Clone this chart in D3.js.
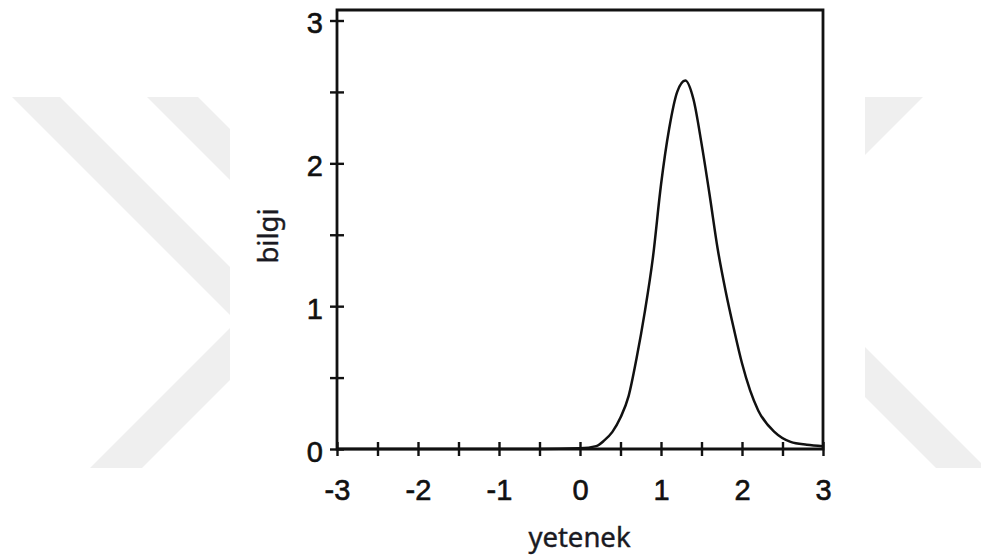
<!DOCTYPE html>
<html>
<head>
<meta charset="utf-8">
<script src="https://cdn.jsdelivr.net/npm/d3@7"></script>
<style>
  html, body { margin: 0; padding: 0; background: #ffffff; }
  svg { display: block; }
</style>
</head>
<body>
<svg id="chart" width="981" height="558"></svg>
<script>
// Item information curve: information (bilgi) against ability (yetenek)
const ability = [-3, -2.5, -2, -1.5, -1, -0.5, 0, 0.2, 0.3, 0.4, 0.5, 0.6, 0.7, 0.8, 0.9, 1.0,
                 1.1, 1.2, 1.3, 1.4, 1.5, 1.6, 1.7, 1.8, 1.9, 2.0, 2.1, 2.2, 2.4, 2.6, 2.8, 3.0];
const information = [0, 0, 0, 0, 0, 0, 0.005, 0.02, 0.06, 0.12, 0.22, 0.37, 0.64, 0.96, 1.34, 1.85,
                     2.24, 2.50, 2.58, 2.45, 2.14, 1.78, 1.40, 1.10, 0.84, 0.60, 0.41, 0.27, 0.12, 0.05, 0.03, 0.02];

const xTicks = [-3, -2.5, -2, -1.5, -1, -0.5, 0, 0.5, 1, 1.5, 2, 2.5, 3];
const yTicks = [0, 0.5, 1, 1.5, 2, 2.5, 3];
const xTitle = "yetenek";
const yTitle = "bilgi";

const svg = d3.select("#chart");
const W = 981, H = 558;

// ---- faint background chevron stripes ----
const ink = "#111111";
const band = { top: 97, bottom: 468 };
const stripes = [
  { dir: "down", lo: 37, hi: 85 },      // y - x in [lo, hi]
  { dir: "up",   lo: 558, hi: 610 },    // x + y in [lo, hi]
  { dir: "down", lo: -101, hi: -50 },
  { dir: "up",   lo: 945, hi: 1020 },
  { dir: "down", lo: -518, hi: -468 }
];
const defs = svg.append("defs");
const clip = defs.append("clipPath").attr("id", "wmClip");
clip.append("rect").attr("x", 0).attr("y", band.top).attr("width", 230).attr("height", band.bottom - band.top);
clip.append("rect").attr("x", 865).attr("y", band.top).attr("width", W - 865).attr("height", band.bottom - band.top);

const wm = svg.append("g").attr("clip-path", "url(#wmClip)");
stripes.forEach(s => {
  const y0 = band.top, y1 = band.bottom;
  let pts;
  if (s.dir === "down") {
    pts = [[y0 - s.hi, y0], [y0 - s.lo, y0], [y1 - s.lo, y1], [y1 - s.hi, y1]];
  } else {
    pts = [[s.lo - y0, y0], [s.hi - y0, y0], [s.hi - y1, y1], [s.lo - y1, y1]];
  }
  wm.append("polygon")
    .attr("points", pts.map(p => p.join(",")).join(" "))
    .attr("fill", "#efefef");
});

// ---- scales ----
const x = d3.scaleLinear().domain([-3, 3]).range([337, 823]);
const y = d3.scaleLinear().domain([0, 3]).range([449, 20.5]);
const frameTop = 3.0735;

const tickFont = "'Liberation Sans', Arial, sans-serif";
const titleFont = "'Segoe UI', 'Noto Sans', 'Open Sans', sans-serif";

// ---- curve ----
const line = d3.line()
  .x((d, i) => x(ability[i]))
  .y(d => y(d))
  .curve(d3.curveMonotoneX);

svg.append("path")
  .datum(information)
  .attr("d", line)
  .attr("fill", "none")
  .attr("stroke", ink)
  .attr("stroke-width", 2.5)
  .attr("stroke-linejoin", "round");

// ---- frame ----
const frame = svg.append("g").attr("stroke", ink).attr("stroke-width", 2.8).attr("fill", "none");
frame.append("path")
  .attr("d", `M${x(-3)},${y(0)} L${x(-3)},${y(frameTop)} L${x(3)},${y(frameTop)} L${x(3)},${y(0)} Z`);

// ---- axes: ticks cross the axis line ----
const fmt = d => Number.isInteger(d) ? String(d) : "";

const yOuter = svg.append("g")
  .attr("transform", `translate(${x(-3)},0)`)
  .call(d3.axisLeft(y).tickValues(yTicks).tickSize(7).tickPadding(7).tickFormat(fmt));
const yInner = svg.append("g")
  .attr("transform", `translate(${x(-3)},0)`)
  .call(d3.axisRight(y).tickValues(yTicks).tickSize(7).tickFormat(""));
const xOuter = svg.append("g")
  .attr("transform", `translate(0,${y(0)})`)
  .call(d3.axisBottom(x).tickValues(xTicks).tickSize(7).tickPadding(23).tickFormat(fmt));
const xInner = svg.append("g")
  .attr("transform", `translate(0,${y(0)})`)
  .call(d3.axisTop(x).tickValues(xTicks).tickSize(7).tickFormat(""));

[yOuter, yInner, xOuter, xInner].forEach(g => {
  g.select(".domain").remove();
  g.selectAll(".tick line").attr("stroke", ink).attr("stroke-width", 2.4);
  g.selectAll(".tick text")
    .attr("fill", ink)
    .attr("stroke", ink)
    .attr("stroke-width", 0.6)
    .style("font-family", tickFont)
    .style("font-size", "29px");
});
yOuter.selectAll(".tick text").attr("dy", "0.43em");

// ---- titles ----
svg.append("text")
  .attr("x", 579.5)
  .attr("y", 546.5)
  .attr("text-anchor", "middle")
  .attr("fill", "#1a1a22")
  .attr("stroke", "#1a1a22")
  .attr("stroke-width", 0.4)
  .style("font-family", titleFont)
  .style("font-size", "27.5px")
  .text(xTitle);

svg.append("text")
  .attr("transform", "translate(278,236) rotate(-90)")
  .attr("text-anchor", "middle")
  .attr("fill", "#1a1a22")
  .attr("stroke", "#1a1a22")
  .attr("stroke-width", 0.4)
  .style("font-family", titleFont)
  .style("font-size", "27.5px")
  .text(yTitle);
</script>
</body>
</html>
